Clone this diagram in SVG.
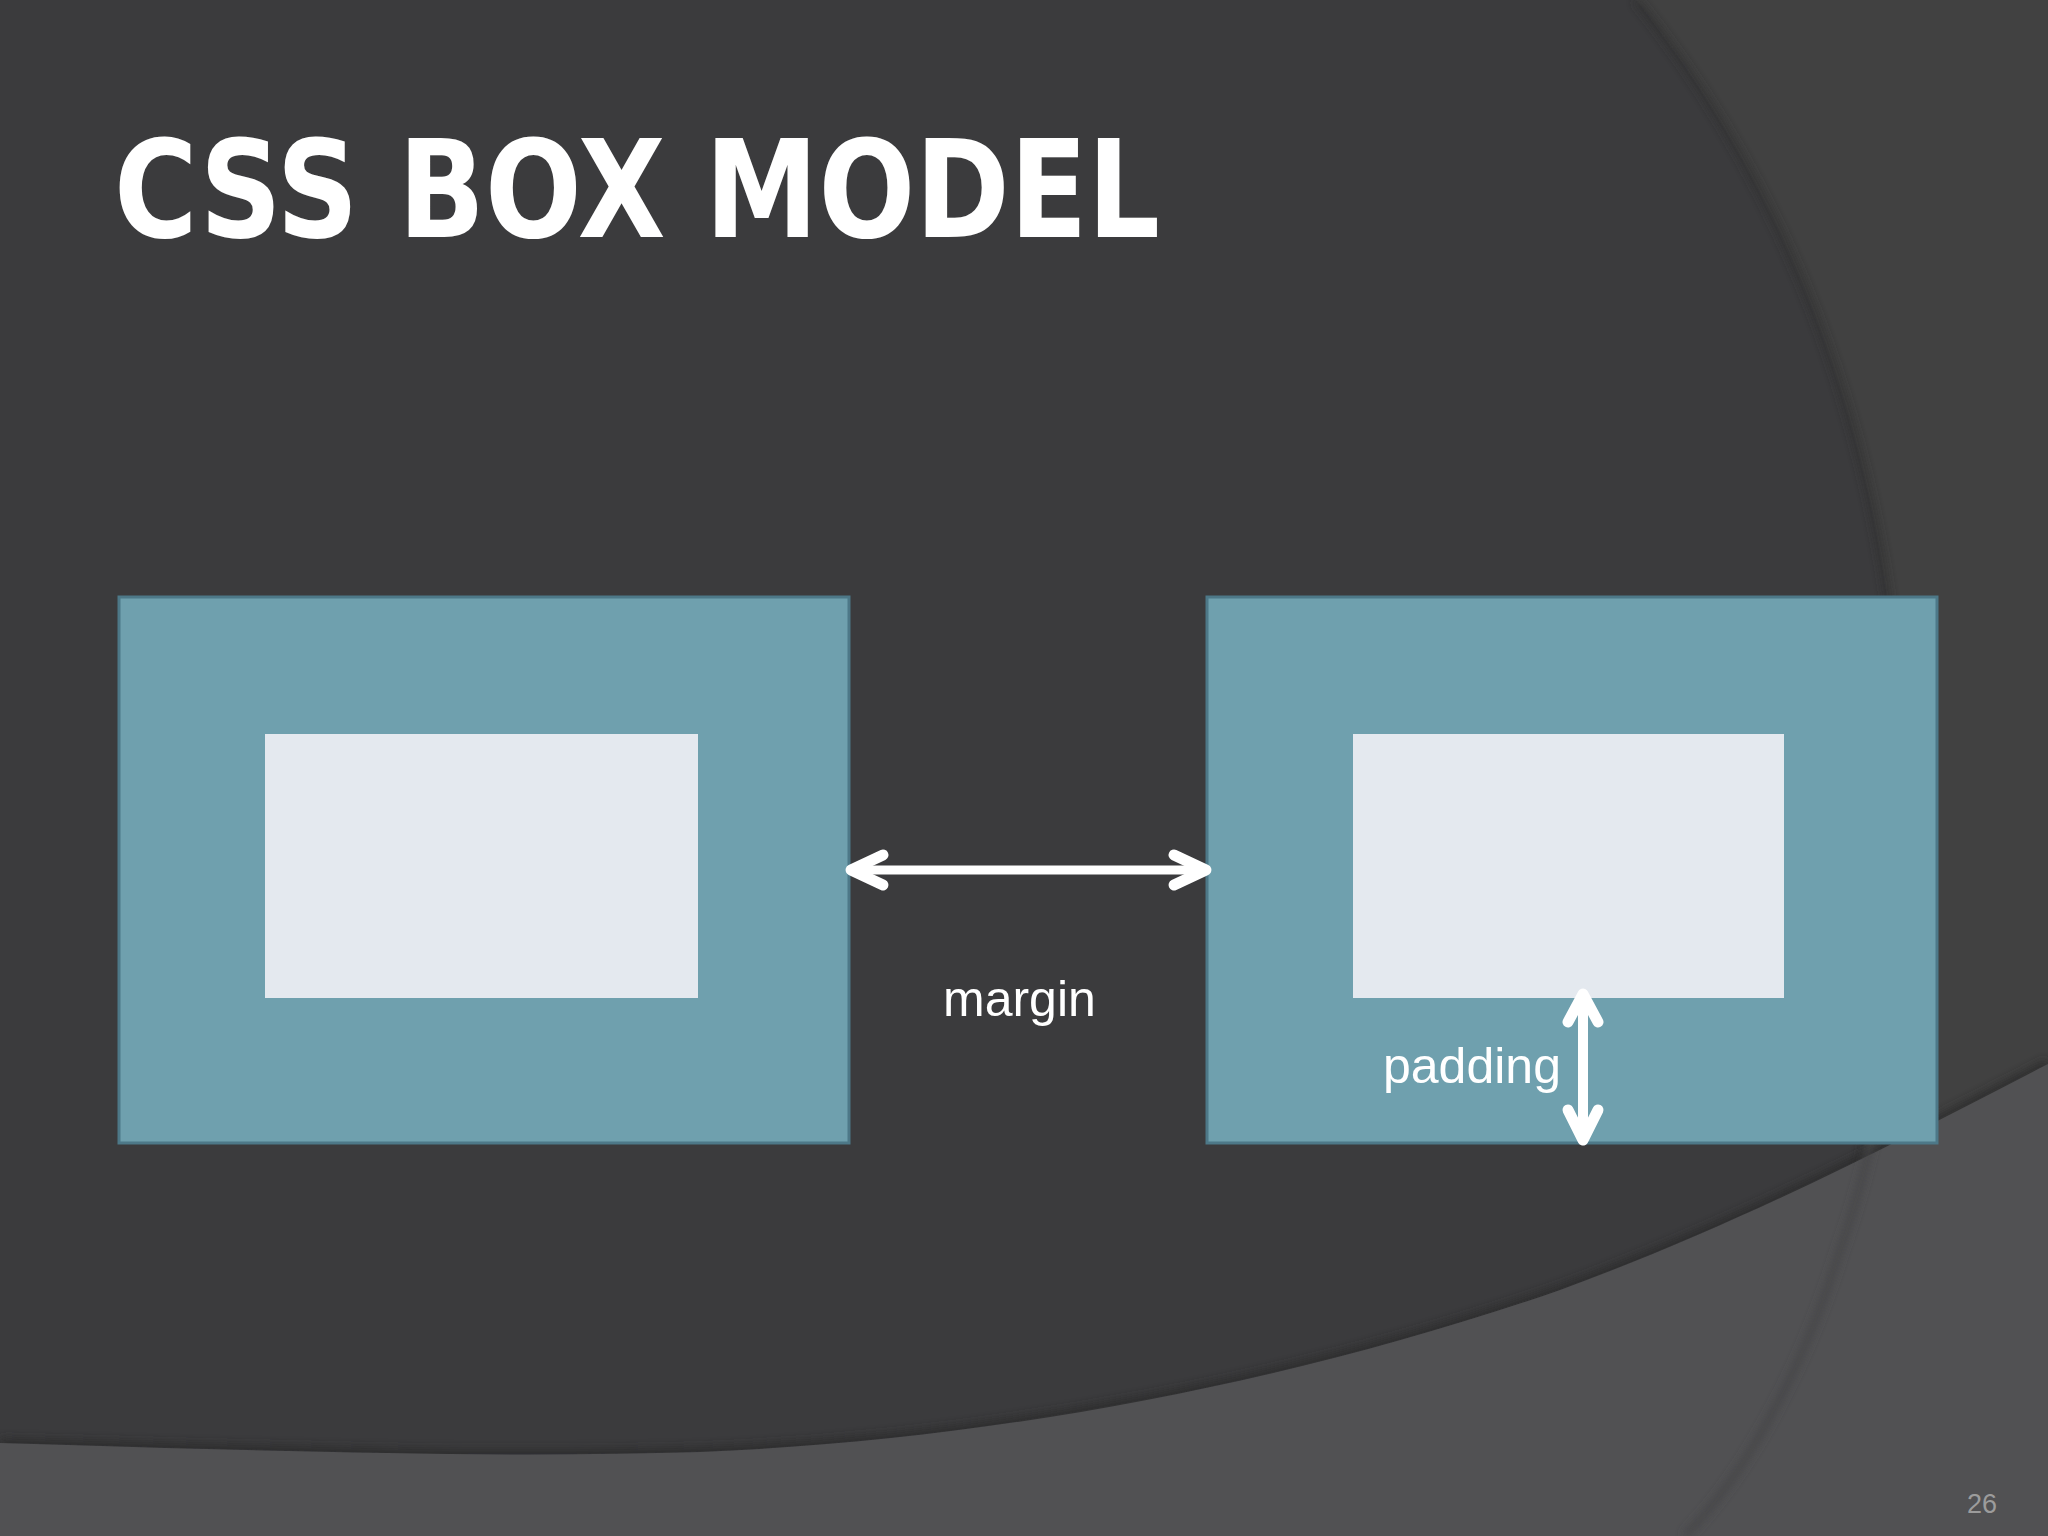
<svg xmlns="http://www.w3.org/2000/svg" width="2048" height="1536" viewBox="0 0 2048 1536">
<style>
.outer{fill:#6fa0ae;stroke:#4d7888;stroke-width:3}
.inner{fill:#e4e9ef}
.arrow{fill:none;stroke:#ffffff;stroke-linecap:round;stroke-linejoin:round}
.lbl{font-family:"Liberation Sans",Arial,sans-serif;font-size:50px;fill:#ffffff}
</style>
<defs>
<filter id="blur" x="-10%" y="-10%" width="120%" height="120%"><feGaussianBlur stdDeviation="4"/></filter>
</defs>
<g id="background">
<rect x="0" y="0" width="2048" height="1536" fill="#3b3b3d"/>
<path d="M1636,0 C1780,180 1880,420 1898,700 C1912,900 1880,1100 1840,1250 C1800,1380 1740,1480 1685,1536 L2048,1536 L2048,0 Z" fill="#414141"/>
<path d="M1636,0 C1780,180 1880,420 1898,700 C1912,900 1880,1100 1840,1250 C1800,1380 1740,1480 1685,1536" fill="none" stroke="#2e2e2f" stroke-width="6" filter="url(#blur)" opacity="0.8"/>
<path d="M0,1443 C300,1452 500,1458 700,1452 C1000,1440 1300,1380 1560,1290 C1750,1220 1900,1140 2048,1064" fill="none" stroke="#2a2a2b" stroke-width="10" filter="url(#blur)" opacity="0.8"/>
<path d="M0,1443 C300,1452 500,1458 700,1452 C1000,1440 1300,1380 1560,1290 C1750,1220 1900,1140 2048,1064 L2048,1536 L0,1536 Z" fill="#515153"/>
<path d="M1880,1100 C1870,1150 1858,1200 1840,1250 C1800,1380 1740,1480 1685,1536" fill="none" stroke="#444446" stroke-width="6" filter="url(#blur)"/>
<text x="1997" y="1513" text-anchor="end" font-family="Liberation Sans,Arial,sans-serif" font-size="27" fill="#9c9c9c">26</text>
</g>
<g id="title">
<text x="114" y="237" font-family="DejaVu Sans,sans-serif" font-weight="bold" font-size="136" fill="#ffffff" textLength="1046" lengthAdjust="spacingAndGlyphs">CSS BOX MODEL</text>
</g>
<g id="box-left">
<rect class="outer" x="119" y="597" width="730" height="546"/>
<rect class="inner" x="265" y="734" width="433" height="264"/>
</g>
<g id="box-right">
<rect class="outer" x="1207" y="597" width="730" height="546"/>
<rect class="inner" x="1353" y="734" width="431" height="264"/>
</g>
<g id="connectors">
<path class="arrow" stroke-width="9" d="M856,870 L1201,870"/>
<path class="arrow" stroke-width="11" d="M883,855 L851,870 L883,885"/>
<path class="arrow" stroke-width="11" d="M1174,855 L1206,870 L1174,885"/>
<path class="arrow" stroke-width="10" d="M1583,998 L1583,1136"/>
<path class="arrow" stroke-width="11" d="M1568,1022 L1583,994 L1598,1022"/>
<path class="arrow" stroke-width="11" d="M1568,1110 L1583,1140 L1598,1110"/>
</g>
<g id="labels">
<text class="lbl" x="943" y="1016">margin</text>
<text class="lbl" x="1383" y="1083">padding</text>
</g>
</svg>
